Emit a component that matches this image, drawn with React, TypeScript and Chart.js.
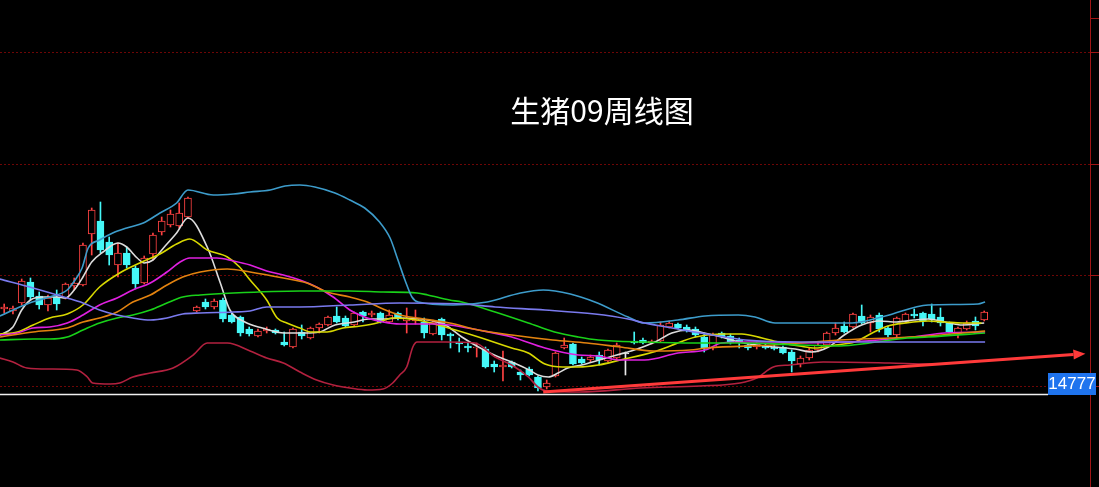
import React, { useEffect, useRef } from "react";
import { Chart, registerables } from "chart.js";

Chart.register(...registerables);

// ---- data (weekly candles) ----
const candleOpen = [
  16477, 16437, 16597, 17017, 16737, 16557, 16717, 16697, 16937, 16957,
  17977, 18237, 17817, 17357, 17597, 17297, 16997, 17577, 18017, 18157,
  18137, 18317, 16437, 16617, 16517, 16657, 16357, 16317, 16077, 15937,
  16037, 16057, 15817, 15717, 16017, 15897, 16097, 16157, 16337, 16297,
  16157, 16417, 16357, 16397, 16217, 16397, 16237, 16237, 16217, 15977,
  16277, 15977, 15817, 15737, 15697, 15677, 15377, 15317, 15417, 15217,
  15277, 15117, 14917, 15137, 15697, 15777, 15477, 15457, 15557, 15437,
  15497, 15577, 15837, 15857, 15797, 15837, 16117, 16177, 16117, 16077,
  15917, 15697, 15997, 15937, 15857, 15757, 15717, 15737, 15717, 15717,
  15617, 15377, 15497, 15657, 15757, 15997, 16137, 16117, 16337, 16197,
  16357, 16097, 15957, 16217, 16377, 16397, 16377, 16317, 16197, 15977,
  16077, 16237, 16257,
];
const candleHigh = [
  16577, 16537, 17077, 17097, 16817, 16757, 16857, 16997, 17097, 17797,
  18497, 18617, 17917, 17797, 17717, 17337, 17537, 17997, 18317, 18457,
  18597, 18717, 16537, 16677, 16677, 16697, 16397, 16337, 16117, 16077,
  16117, 16077, 16017, 16097, 16157, 16117, 16197, 16337, 16517, 16337,
  16417, 16437, 16437, 16417, 16457, 16417, 16497, 16457, 16297, 16257,
  16297, 15997, 15897, 15797, 15797, 15717, 15437, 15637, 15437, 15257,
  15317, 15137, 15057, 15617, 15897, 15797, 15517, 15557, 15617, 15677,
  15797, 15617, 16017, 15897, 15857, 16217, 16237, 16197, 16157, 16117,
  15997, 15997, 16017, 15977, 15897, 15797, 15817, 15777, 15757, 15737,
  15657, 15537, 15697, 15797, 16017, 16197, 16217, 16397, 16557, 16357,
  16397, 16137, 16317, 16397, 16477, 16417, 16577, 16497, 16217, 16117,
  16237, 16317, 16437,
];
const candleLow = [
  16397, 16377, 16557, 16657, 16477, 16437, 16457, 16677, 16857, 16937,
  17557, 17597, 17357, 17117, 17297, 16877, 16977, 17457, 17957, 18117,
  18097, 18297, 16417, 16477, 16477, 16217, 16197, 15937, 15937, 15917,
  15997, 15977, 15737, 15697, 15877, 15877, 15997, 16137, 16197, 16117,
  16137, 16217, 16317, 16197, 16197, 16257, 15997, 16177, 15897, 15957,
  15857, 15697, 15617, 15617, 15517, 15297, 15217, 15037, 15297, 15057,
  15137, 14837, 14877, 15117, 15677, 15357, 15377, 15417, 15357, 15417,
  15457, 15157, 15777, 15777, 15777, 15817, 16097, 16077, 16017, 15917,
  15617, 15657, 15897, 15777, 15697, 15657, 15677, 15677, 15657, 15577,
  15217, 15317, 15457, 15617, 15737, 15957, 15997, 16097, 16177, 16017,
  16017, 15917, 15917, 16197, 16297, 16137, 16217, 16137, 15997, 15897,
  16057, 16057, 16237,
];
const candleClose = [
  16517, 16497, 17037, 16717, 16557, 16697, 16577, 16977, 16997, 17757,
  18457, 17657, 17557, 17597, 17357, 16977, 17497, 17957, 18237, 18377,
  18397, 18697, 16517, 16517, 16637, 16277, 16217, 15997, 15977, 16037,
  16077, 15997, 15757, 16077, 15937, 16097, 16177, 16317, 16217, 16137,
  16397, 16337, 16397, 16217, 16357, 16297, 16297, 16297, 15997, 16217,
  15957, 15937, 15777, 15697, 15717, 15317, 15317, 15357, 15317, 15157,
  15157, 14897, 14997, 15597, 15757, 15377, 15397, 15517, 15457, 15657,
  15757, 15577, 15797, 15797, 15837, 16157, 16197, 16097, 16037, 15957,
  15697, 15957, 15917, 15797, 15797, 15697, 15797, 15697, 15677, 15597,
  15437, 15497, 15657, 15757, 15997, 16097, 16017, 16377, 16197, 16317,
  16077, 15957, 16297, 16377, 16337, 16237, 16277, 16197, 16017, 16097,
  16197, 16137, 16417,
];

// ---- indicator lines: [week position, price] ----
const maWhite: [number, number][] = [
  [-0.5, 15957], [1, 16117], [2, 16457], [3, 16657], [4.5, 16717], [6, 16717], [7, 16697],
  [8, 16857], [9, 17117], [10, 17417], [11.3, 17617], [13, 17797], [14, 17717], [15.2, 17497],
  [16, 17397], [17, 17457], [18.2, 17697], [19.7, 17997], [21, 18297], [23.2, 17717],
  [24.7, 16997], [25.8, 16457], [27.5, 16217], [29.5, 16097], [32, 15997], [34.4, 15997],
  [36, 16017], [37.8, 16157], [40, 16217], [41.6, 16277], [43.2, 16277], [45.2, 16297],
  [48.4, 16257], [50.4, 16157], [52.3, 15917], [54.2, 15717], [56, 15557], [58, 15417],
  [60, 15257], [61, 15157], [62.2, 15117], [63.3, 15197], [64.4, 15297], [66, 15357],
  [68, 15457], [70, 15557], [72, 15657], [74.4, 15817], [76.3, 15997], [78.2, 16057],
  [80, 15997], [82, 15917], [84, 15817], [86, 15757], [88, 15717], [90.4, 15677],
  [92.3, 15617], [94.2, 15717], [96, 15957], [98, 16157], [100, 16237], [102, 16217],
  [104, 16257], [105.6, 16277], [107.5, 16217], [109.5, 16157], [112, 16197],
];
const maYellow: [number, number][] = [
  [-0.5, 15977], [1.5, 16017], [3.3, 16157], [5.2, 16297], [7.2, 16377], [9, 16557],
  [10.9, 16917], [13.2, 17197], [15.5, 17397], [17.8, 17577], [19.7, 17777], [21.2, 17877],
  [23.2, 17657], [25.5, 17517], [26.9, 17317], [28.1, 17057], [30, 16657], [31.2, 16297],
  [32.3, 16197], [33.8, 16097], [35, 16017], [36.9, 16017], [38.7, 16097], [40.7, 16137],
  [42.6, 16197], [44.4, 16297], [47.2, 16257], [50.4, 16117], [54.2, 15917], [58, 15697],
  [59.9, 15597], [61.8, 15377], [63.8, 15317], [65.6, 15317], [67.9, 15357], [70.4, 15457],
  [74.2, 15617], [76.1, 15737], [79, 15917], [82, 15977], [84.3, 15977], [86.6, 15897],
  [88.9, 15797], [90.9, 15737], [92.7, 15697], [95, 15757], [97.2, 15817], [99.2, 15997],
  [101, 16137], [103, 16197], [105.6, 16237], [107.5, 16217], [109.5, 16197], [111.7, 16197],
];
const maMagenta: [number, number][] = [
  [-0.5, 15957], [1.5, 15997], [3.3, 16097], [5.2, 16117], [7.2, 16197], [9, 16357],
  [10.9, 16557], [12.9, 16697], [14.7, 16857], [16.7, 16997], [18.6, 17217], [20.1, 17417],
  [21.2, 17497], [24.3, 17497], [26.2, 17437], [28.1, 17357], [30, 17237], [31.9, 17157],
  [33.8, 17057], [35.7, 16917], [37.6, 16717], [39.5, 16457], [41.5, 16297], [43.3, 16217],
  [45.2, 16177], [49, 16177], [50.9, 16157], [54.2, 16057], [58, 15917], [61.8, 15697],
  [65.6, 15557], [67.9, 15537], [70.4, 15457], [73.2, 15457], [77, 15597], [80.1, 15657],
  [82, 15797], [84.7, 15817], [88.4, 15817], [90.9, 15797], [96.1, 15817], [99.9, 15857],
  [103.8, 15917], [107.5, 15997], [112.1, 16017],
];
const maOrange: [number, number][] = [
  [-0.5, 15917], [3.3, 16017], [7.2, 16097], [9, 16217], [10.9, 16297], [12.9, 16417],
  [14.7, 16617], [16.7, 16757], [18.6, 16957], [20.4, 17117], [22.4, 17217], [25.5, 17277],
  [28.1, 17217], [31.9, 17097], [34.6, 16997], [36.9, 16817], [39.5, 16717], [41.5, 16617],
  [43.3, 16477], [45.2, 16357], [47.2, 16297], [50.9, 16197], [54.2, 16057], [58, 15957],
  [62.7, 15857], [66.6, 15797], [70.4, 15717], [74.2, 15637], [78.4, 15657], [80.3, 15697],
  [87.9, 15757], [95.5, 15857], [101.2, 15897], [105.6, 15937], [112.1, 16037],
];
const maGreen: [number, number][] = [
  [-0.5, 15857], [3.3, 15877], [5.2, 15877], [7.2, 15917], [9, 16057], [10.9, 16197],
  [12.9, 16297], [14.7, 16357], [16.7, 16457], [18.6, 16597], [20.4, 16717], [22.4, 16757],
  [26.2, 16797], [33.8, 16837], [39.5, 16837], [43.3, 16817], [47.2, 16797], [48.4, 16757],
  [50.9, 16657], [52.3, 16617], [56.1, 16417], [59.9, 16197], [62.9, 16017], [65.6, 15917],
  [67.9, 15857], [73.2, 15817], [79, 15797], [84.7, 15797], [90.9, 15757], [95.5, 15737],
  [98.9, 15797], [103.2, 15897], [105.6, 15917], [112.1, 15997],
];
const bollMid: [number, number][] = [
  [-0.5, 17077], [3.3, 16897], [7.2, 16697], [9, 16597], [10.9, 16457], [12.9, 16357],
  [14.7, 16297], [16.7, 16257], [18.6, 16297], [20.4, 16377], [22.4, 16397], [26.2, 16417],
  [28.1, 16437], [30, 16517], [33.8, 16517], [39.5, 16557], [45.2, 16597], [52.3, 16577],
  [56.1, 16517], [61.8, 16457], [67.5, 16377], [71.3, 16277], [73.2, 16197], [77, 16077],
  [80.9, 15957], [84.7, 15857], [90.9, 15817], [112.1, 15817],
];
const bollUpper: [number, number][] = [
  [-0.5, 16337], [2.9, 16597], [5.2, 16717], [7.2, 16857], [8.1, 17057], [8.9, 17297],
  [9.6, 17697], [10.9, 17857], [12.4, 17997], [14, 18097], [15.9, 18197], [17.8, 18397],
  [19.7, 18597], [21, 18857], [23.9, 18757], [26.2, 18777], [28.1, 18817], [30.4, 18857],
  [32.1, 18937], [33.8, 18957], [35.5, 18917], [37.8, 18797], [39.5, 18657], [41.2, 18497],
  [42.9, 18217], [44.1, 17897], [45, 17457], [45.8, 17057], [46.6, 16717], [47.3, 16617],
  [51.3, 16557], [55.2, 16617], [59, 16797], [61.6, 16857], [64.7, 16777], [67.5, 16617],
  [71.3, 16317], [73.2, 16197], [77, 16257], [80.1, 16337], [83.9, 16357], [85.8, 16317],
  [88.1, 16197], [96.9, 16197], [100.7, 16337], [105.6, 16557], [111.3, 16577], [112.1, 16617],
];
const bollLower: [number, number][] = [
  [-0.5, 15497], [1, 15417], [2.6, 15297], [5.2, 15277], [8.3, 15257], [9.5, 15117],
  [10.1, 14997], [12.1, 14977], [13.2, 14997], [14.7, 15117], [16.7, 15197], [19.3, 15297],
  [21.6, 15557], [23.2, 15797], [25.5, 15797], [28.1, 15637], [30, 15497], [31.9, 15397],
  [33.8, 15217], [35.7, 15057], [37.6, 14957], [39.5, 14897], [41.5, 14857], [43.3, 14877],
  [44.4, 14997], [45.2, 15157], [46, 15317], [46.7, 15717], [47.2, 15817], [50.4, 15817],
  [53.8, 15797], [56.1, 15517], [58, 15357], [59.9, 15117], [61, 14917], [62, 14837],
  [65.8, 14817], [72.7, 14897], [79.5, 14937], [84.1, 14997], [86, 15097], [87.9, 15317],
  [89.8, 15357], [93.6, 15417], [101.2, 15397], [105.8, 15377], [112.1, 15437],
];
const trendArrow: [number, number][] = [[61.6, 14817], [122.2, 15567]];

const gridValues = [14937, 17157, 19377, 21617];
const rightTickValues = [22297, 21617, 19377, 17157, 14937];
const lastPrice = 14777;
const titleText = "生猪09周线图";

const X_MIN = -0.48;
const X_MAX = 124.09;
const Y_MIN = 12917;
const Y_MAX = 22657;

const UP = "#ff4242";
const DOWN = "#45f7f7";
const DOJI = "#e8e8e8";

const weeks = candleOpen.map((_, i) => i);
const candleColor = weeks.map((i) =>
  candleClose[i] > candleOpen[i] ? UP : candleClose[i] < candleOpen[i] ? DOWN : DOJI
);
const bodyFill = weeks.map((i) =>
  candleClose[i] > candleOpen[i] ? "#000000" : candleColor[i]
);

const toXY = (pairs: [number, number][]) => pairs.map(([x, y]) => ({ x, y }));

const lineDs = (label: string, pairs: [number, number][], color: string, width = 1.6) => ({
  type: "line" as const,
  label,
  data: toXY(pairs),
  borderColor: color,
  backgroundColor: color,
  borderWidth: width,
  pointRadius: 0,
  fill: false,
  cubicInterpolationMode: "monotone" as const,
  order: 1,
});

const decorPlugin = {
  id: "decor",
  beforeDatasetsDraw(chart: any) {
    const { ctx, chartArea, scales } = chart;
    const ys = scales.y;
    ctx.save();
    ctx.lineWidth = 1;
    ctx.strokeStyle = "#6e0606";
    ctx.setLineDash([2, 2]);
    for (const v of gridValues) {
      const py = Math.round(ys.getPixelForValue(v)) + 0.5;
      ctx.beginPath();
      ctx.moveTo(chartArea.left, py);
      ctx.lineTo(chartArea.right, py);
      ctx.stroke();
    }
    ctx.setLineDash([]);
    const rx = Math.round(chartArea.right) + 0.5;
    ctx.strokeStyle = "#a01414";
    ctx.beginPath();
    ctx.moveTo(rx, 0);
    ctx.lineTo(rx, chart.height);
    ctx.stroke();
    for (const v of rightTickValues) {
      const py = Math.round(ys.getPixelForValue(v)) + 0.5;
      ctx.beginPath();
      ctx.moveTo(rx, py);
      ctx.lineTo(chart.width, py);
      ctx.stroke();
    }
    ctx.restore();
  },
  afterDatasetsDraw(chart: any) {
    const { ctx, chartArea, scales } = chart;
    const ys = scales.y;
    ctx.save();
    // last price line + label
    const py = Math.round(ys.getPixelForValue(lastPrice)) + 0.5;
    const boxRight = chartArea.right + 6;
    const boxW = 48;
    const boxH = 22;
    const boxLeft = boxRight - boxW;
    ctx.strokeStyle = "#f0f0f0";
    ctx.lineWidth = 1.5;
    ctx.beginPath();
    ctx.moveTo(chartArea.left, py);
    ctx.lineTo(boxLeft, py);
    ctx.stroke();
    ctx.fillStyle = "#1f74ee";
    ctx.fillRect(boxLeft, py - boxH + 0.5, boxW, boxH);
    ctx.fillStyle = "#ffffff";
    ctx.font = "17px 'Liberation Sans', Arial, sans-serif";
    ctx.textAlign = "center";
    ctx.textBaseline = "middle";
    ctx.fillText(String(lastPrice), boxLeft + boxW / 2, py - boxH / 2 + 1);

    // arrow head on the trend line
    const idx = chart.data.datasets.findIndex((d: any) => d.label === "trend");
    const meta = chart.getDatasetMeta(idx);
    const pts = meta.data;
    if (pts.length >= 2) {
      const a = pts[pts.length - 2];
      const b = pts[pts.length - 1];
      const ang = Math.atan2(b.y - a.y, b.x - a.x);
      const len = 12;
      const half = 5;
      const tipX = b.x + Math.cos(ang) * len;
      const tipY = b.y + Math.sin(ang) * len;
      ctx.fillStyle = "#ff3a3a";
      ctx.beginPath();
      ctx.moveTo(tipX, tipY);
      ctx.lineTo(b.x - Math.sin(ang) * half, b.y + Math.cos(ang) * half);
      ctx.lineTo(b.x + Math.sin(ang) * half, b.y - Math.cos(ang) * half);
      ctx.closePath();
      ctx.fill();
    }
    ctx.restore();
  },
  afterDraw(chart: any) {
    const { ctx } = chart;
    ctx.save();
    ctx.fillStyle = "#ffffff";
    ctx.font = "30px 'Noto Sans CJK SC', sans-serif";
    ctx.textAlign = "center";
    ctx.textBaseline = "middle";
    ctx.fillText(titleText, 602, 111);
    ctx.restore();
  },
};

export default function App() {
  const ref = useRef<HTMLCanvasElement | null>(null);
  useEffect(() => {
    document.body.style.margin = "0";
    document.body.style.background = "#000";
    const canvas = ref.current;
    if (!canvas) return;
    const chart = new Chart(canvas, {
      type: "bar",
      data: {
        datasets: [
          {
            type: "bar",
            label: "wick",
            data: weeks.map((i) => ({ x: i, y: [candleLow[i], candleHigh[i]] })),
            backgroundColor: candleColor,
            borderWidth: 0,
            barThickness: 1,
            grouped: false,
            order: 4,
          } as any,
          {
            type: "bar",
            label: "body",
            data: weeks.map((i) => ({ x: i, y: [candleOpen[i], candleClose[i]] })),
            backgroundColor: bodyFill,
            borderColor: candleColor,
            borderWidth: 1,
            borderSkipped: false,
            barThickness: 7,
            minBarLength: 1,
            grouped: false,
            order: 3,
          } as any,
          lineDs("bollLower", bollLower, "#b3213f"),
          lineDs("bollMid", bollMid, "#7a7aee"),
          lineDs("bollUpper", bollUpper, "#3d9ccb"),
          lineDs("ma60", maGreen, "#19d119"),
          lineDs("ma30", maOrange, "#e3830f"),
          lineDs("ma20", maMagenta, "#e020e0"),
          lineDs("ma10", maYellow, "#d8d800"),
          lineDs("ma5", maWhite, "#dcdcdc"),
          {
            type: "line",
            label: "trend",
            data: toXY(trendArrow),
            borderColor: "#ff3a3a",
            borderWidth: 3,
            pointRadius: 0,
            fill: false,
            order: 0,
          } as any,
        ],
      },
      options: {
        responsive: false,
        animation: false,
        events: [],
        layout: { padding: { left: 0, right: 9, top: 0, bottom: 0 } },
        scales: {
          x: { type: "linear", min: X_MIN, max: X_MAX, offset: false, display: false },
          y: { type: "linear", min: Y_MIN, max: Y_MAX, display: false },
        },
        plugins: {
          legend: { display: false },
          tooltip: { enabled: false },
        },
      } as any,
      plugins: [decorPlugin],
    });
    return () => chart.destroy();
  }, []);
  return (
    <div style={{ position: "absolute", left: 0, top: 0, width: 1099, height: 487, background: "#000" }}>
      <canvas ref={ref} width={1099} height={487} style={{ display: "block" }} />
    </div>
  );
}
